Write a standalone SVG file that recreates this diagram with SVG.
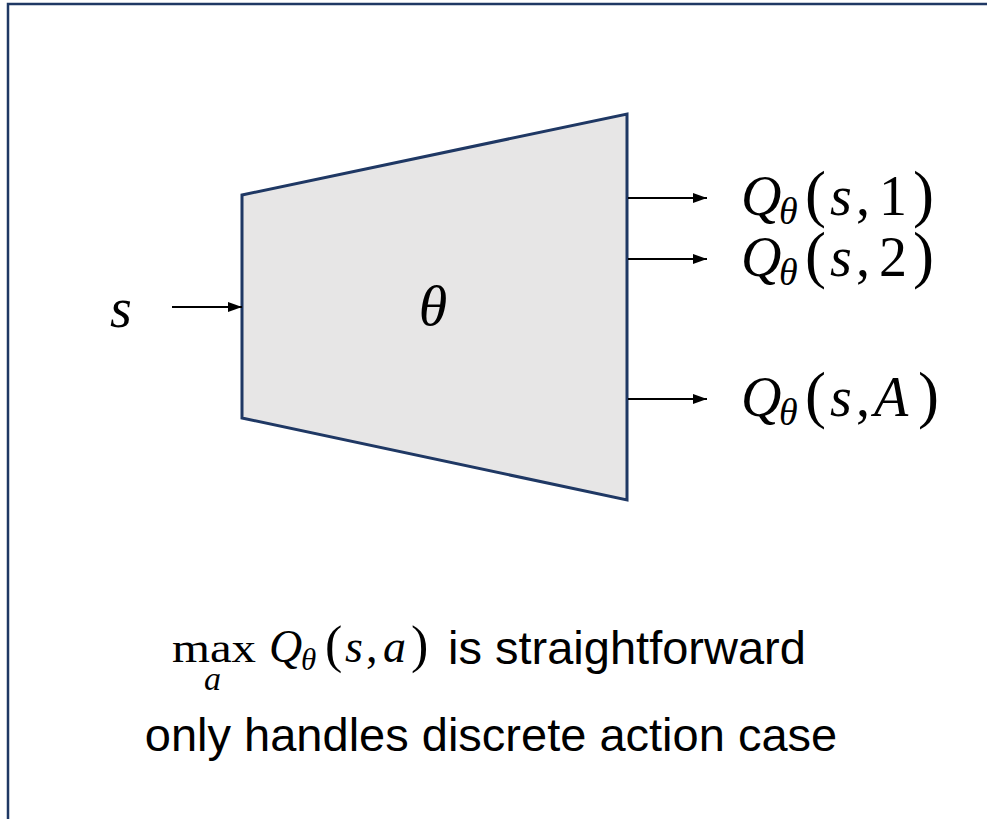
<svg xmlns="http://www.w3.org/2000/svg" width="987" height="819" viewBox="0 0 987 819">
<defs>
<marker id="ah" markerWidth="14" markerHeight="10" refX="14" refY="5" orient="auto" markerUnits="userSpaceOnUse">
<path d="M0,0 L14,5 L0,10 Z" fill="#000"/>
</marker>
<style>
.m{font-family:"Liberation Serif","Times New Roman",serif;fill:#000}
.i{font-style:italic}
.t{font-family:"Liberation Sans",Arial,sans-serif;fill:#000;font-size:47px}
.c{stroke:#000;stroke-width:2;fill:none;marker-end:url(#ah)}
</style>
</defs>
<rect width="987" height="819" fill="#fff"/>
<rect x="8" y="4" width="1000" height="900" fill="none" stroke="#1f3864" stroke-width="2.5"/>
<g id="network">
<polygon points="242,195 627,114 627,500 242,418" fill="#e7e6e6" stroke="#1f3864" stroke-width="3" stroke-linejoin="miter"/>
<text class="m i" x="433" y="325" font-size="58" text-anchor="middle">θ</text>
</g>
<g id="input">
<text class="m i" x="110" y="327" font-size="56">s</text>
</g>
<g id="connectors">
<line class="c" x1="628" y1="198" x2="707" y2="198"/>
<line class="c" x1="628" y1="259" x2="707" y2="259"/>
<line class="c" x1="628" y1="399" x2="707" y2="399"/>
<line class="c" x1="172" y1="307" x2="242" y2="307"/>
</g>
<g id="q1">
<text class="m" y="215" font-size="56"><tspan class="i" x="741">Q</tspan><tspan class="i" x="779" y="224" font-size="38">θ</tspan><tspan x="805" y="215" font-size="63">(</tspan><tspan class="i" x="830">s</tspan><tspan x="856">,</tspan><tspan x="879">1</tspan><tspan x="913" font-size="63">)</tspan></text>
</g>
<g id="q2">
<text class="m" y="276" font-size="56"><tspan class="i" x="741">Q</tspan><tspan class="i" x="779" y="285" font-size="38">θ</tspan><tspan x="805" y="276" font-size="63">(</tspan><tspan class="i" x="830">s</tspan><tspan x="856">,</tspan><tspan x="879">2</tspan><tspan x="913" font-size="63">)</tspan></text>
</g>
<g id="qA">
<text class="m" y="416" font-size="56"><tspan class="i" x="741">Q</tspan><tspan class="i" x="779" y="425" font-size="38">θ</tspan><tspan x="805" y="416" font-size="63">(</tspan><tspan class="i" x="830">s</tspan><tspan x="856">,</tspan><tspan class="i" x="874">A</tspan><tspan x="918" font-size="63">)</tspan></text>
</g>
<g id="caption">
<text class="m" x="172" y="662" font-size="42" textLength="84" lengthAdjust="spacingAndGlyphs">max</text>
<text class="m i" x="204" y="690" font-size="34">a</text>
<text class="m" y="662" font-size="46"><tspan class="i" x="269">Q</tspan><tspan class="i" x="301" y="670" font-size="31">θ</tspan><tspan x="325" y="662" font-size="52">(</tspan><tspan class="i" x="345">s</tspan><tspan x="366">,</tspan><tspan class="i" x="383">a</tspan><tspan x="411" font-size="52">)</tspan></text>
<text class="t" x="448" y="664">is straightforward</text>
<text class="t" x="491" y="751" text-anchor="middle">only handles discrete action case</text>
</g>
</svg>
